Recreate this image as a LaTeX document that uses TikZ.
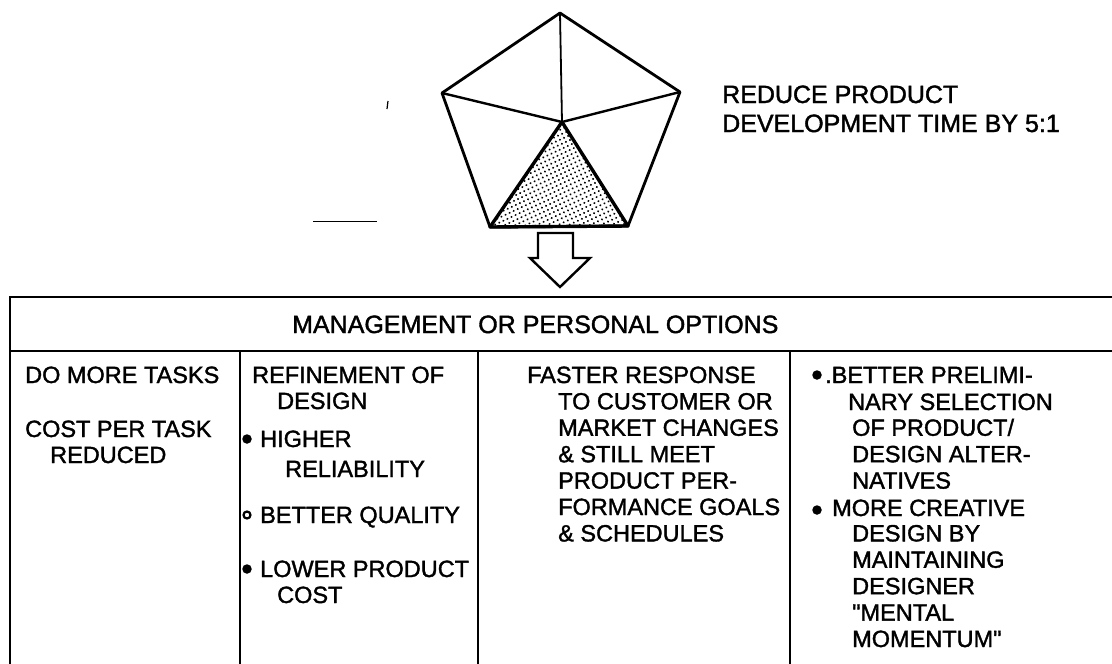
\documentclass[tikz,border=0pt]{standalone}
\usepackage{fontspec}
\setmainfont{Liberation Sans}[FakeBold=1.5]
\usetikzlibrary{positioning, patterns.meta}
\tikzstyle{txt}  = [anchor=base west, inner sep=0pt, font=\fontsize{23.5}{26.4}\selectfont]
\tikzstyle{big}  = [txt, font=\fontsize{25}{28}\selectfont]
\tikzstyle{bul}  = [circle, fill, inner sep=0pt, minimum size=9.5pt]
\tikzstyle{ring} = [circle, draw, line width=2.2pt, inner sep=0pt, minimum size=7pt]
\tikzstyle{rule} = [draw, line width=2.6pt]
\tikzstyle{pent} = [draw, line width=2.8pt, line join=round]

\begin{document}
\begin{tikzpicture}[x=1pt, y=-1pt]
\useasboundingbox (0,0) rectangle (1112,664);

% pentagon
\coordinate (pt)  at (560,13);
\coordinate (pl)  at (442,93);
\coordinate (pr)  at (680,92);
\coordinate (pbl) at (490,227);
\coordinate (pbr) at (628,226);
\coordinate (pc)  at (562,122);

\path [pattern={Dots[distance=4.5pt, radius=1.1pt, angle=25]}] (pc) -- (pbl) -- (pbr) -- cycle;
\draw [pent] (pt) -- (pr) -- (pbr) -- (pbl) -- (pl) -- cycle;
\draw [pent, line width=1.8pt] (pc) -- (pt);
\draw [pent, line width=2.4pt] (pl) -- (pc) -- (pr);
\draw [pent, line width=3.4pt] (pbl) -- (pc) -- (pbr) -- cycle;

\node [big] (ra) at (722,103) {REDUCE PRODUCT};
\node [big] (rb) at (722,132) {DEVELOPMENT TIME BY 5:1};

% stray marks
\draw [line width=1pt] (313,221) -- (377,221);
\draw [line width=1.2pt] (388,101) -- (387,109);

% arrow
\draw [line width=2.4pt] (538,233) -- (573,233) -- (573,258) -- (590,258)
      -- (560,287) -- (530,258) -- (538,258) -- cycle;

% table
\draw [rule] (10,664) -- (10,297) -- (1112,297);
\draw [rule] (10,351) -- (1112,351);
\foreach \x in {240,478,790}
  \draw [rule] (\x,351) -- (\x,664);

\node [big] (hd) at (292,333) {MANAGEMENT OR PERSONAL OPTIONS};

% column 1
\node [txt] (da) at (25,383)  {DO MORE TASKS};
\node [txt] (db) at (25,437)  {COST PER TASK};
\node [txt] (dc) at (50,463)  {REDUCED};

% column 2
\node [txt] (ea) at (252,383) {REFINEMENT OF};
\node [txt] (eb) at (277,409) {DESIGN};
\node [bul] (ba) at (247,439) {};
\node [txt] (ec) at (260,447) {HIGHER};
\node [txt] (ed) at (285,477) {RELIABILITY};
\node [ring](bb) at (247,515) {};
\node [txt] (ee) at (260,523) {BETTER QUALITY};
\node [bul] (bc) at (247,569) {};
\node [txt] (ef) at (260,577) {LOWER PRODUCT};
\node [txt] (eg) at (277,603) {COST};

% column 3
\node [txt] (f0) at (527,383) {FASTER RESPONSE};
\foreach \t [count=\i] in {TO CUSTOMER OR, MARKET CHANGES, \& STILL MEET,
                           PRODUCT PER-, FORMANCE GOALS, \& SCHEDULES}
  \node [txt] (f\i) at (558,{383+26.4*\i}) {\t};

% column 4
\node [bul] (bd) at (817,375) {};
\node [txt] (g0) at (825,383) {.BETTER PRELIMI-};
\node [txt] (g1) at (848,410) {NARY SELECTION};
\foreach \t [count=\i from 2] in {OF PRODUCT/, DESIGN ALTER-, NATIVES}
  \node [txt] (g\i) at (852,{383+26.4*\i}) {\t};
\node [bul] (be) at (817,510) {};
\node [txt] (g5) at (832,516) {MORE CREATIVE};
\foreach \t [count=\i from 6] in {DESIGN BY, MAINTAINING, DESIGNER,
                                  \textquotedbl MENTAL, MOMENTUM\textquotedbl}
  \node [txt] (g\i) at (852,{383+26.4*\i}) {\t};

\end{tikzpicture}
\end{document}
